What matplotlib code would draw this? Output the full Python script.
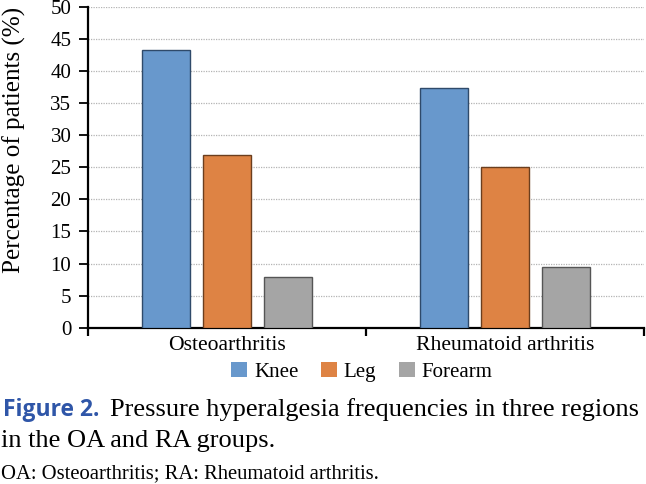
import matplotlib
matplotlib.use('Agg')
import matplotlib.pyplot as plt
from matplotlib.patches import Patch
import numpy as np

groups = ['Osteoarthritis', 'Rheumatoid arthritis']
regions = ['Knee', 'Leg', 'Forearm']
knee = [43.3, 37.4]
leg = [27.0, 25.0]
forearm = [7.9, 9.4]
yticks = [0, 5, 10, 15, 20, 25, 30, 35, 40, 45, 50]
colors = ['#6898cc', '#de8344', '#a5a5a5']
edges = ['#2f4a6a', '#6b3e1e', '#555555']

W, H = 646, 484
SERIF = ['Liberation Serif', 'DejaVu Serif']

fig = plt.figure(figsize=(W / 100, H / 100), dpi=100)
top_px = 7.0
ax = fig.add_axes([88 / W, (H - 327.7) / H, 556 / W, (327.7 - top_px) / H])

x = np.arange(len(groups))
width = 0.1727
step = 0.2205
for i, (vals, c, ec) in enumerate(zip([knee, leg, forearm], colors, edges)):
    ax.bar(x + (i - 1) * step, vals, width, color=c, edgecolor=ec,
           linewidth=1.0, zorder=3, label=regions[i])

ax.set_xlim(-0.5, 1.5)
ax.set_ylim(0, 50)
ax.set_yticks(yticks)
ax.set_yticklabels([str(t) for t in yticks], fontfamily=SERIF, fontsize=15)
ax.yaxis.grid(True, linestyle=(0, (1, 1)), color='#b4b4b4', linewidth=0.9, zorder=0)
ax.set_axisbelow(True)
for s in ['top', 'right']:
    ax.spines[s].set_visible(False)
for s in ['left', 'bottom']:
    ax.spines[s].set_linewidth(1.6)
    ax.spines[s].set_color('black')

ax.set_xticks([-0.5, 0.5, 1.5])
ax.set_xticklabels([])
ax.set_xticks(x, minor=True)
ax.set_xticklabels(groups, minor=True, fontfamily=SERIF, fontsize=15.6)
ax.tick_params(axis='x', which='major', length=6, width=1.6, direction='out')
ax.tick_params(axis='x', which='minor', length=0, pad=6)
ax.tick_params(axis='y', which='major', length=6.5, width=1.3, direction='out', pad=5.5)

ylab = fig.text(14 / W, 1 - 140 / H, 'Percentage of patients (%)', rotation=90,
                ha='center', va='center', fontfamily=SERIF, fontsize=15)

handles = [Patch(facecolor=c, edgecolor='none') for c in colors]
fig.legend(handles, regions, loc='center', ncol=3, frameon=False,
           bbox_to_anchor=(362 / W, 1 - 372 / H),
           prop={'family': SERIF, 'size': 15},
           handlelength=0.75, handleheight=0.75, handletextpad=0.33,
           columnspacing=1.1, borderpad=0, borderaxespad=0)

fig.canvas.draw()
renderer = fig.canvas.get_renderer()


def fit(t, target, vertical=False):
    fig.canvas.draw()
    bb = t.get_window_extent(renderer)
    w = bb.height if vertical else bb.width
    t.set_fontsize(t.get_fontsize() * target / w)
    return t


fit(ylab, 268, vertical=True)

t1 = fig.text(3 / W, 1 - 416 / H, 'Figure 2.', ha='left', va='baseline',
              fontfamily=['Open Sans', 'DejaVu Sans'], fontweight='bold',
              color='#2f56a8', fontsize=15)
fit(t1, 97)
t2 = fig.text(110 / W, 1 - 416 / H,
              'Pressure hyperalgesia frequencies in three regions',
              ha='left', va='baseline', fontfamily=SERIF, fontsize=16)
fit(t2, 528)
t3 = fig.text(1 / W, 1 - 447 / H, 'in the OA and RA groups.', ha='left',
              va='baseline', fontfamily=SERIF, fontsize=t2.get_fontsize())
t4 = fig.text(1 / W, 1 - 478.5 / H, 'OA: Osteoarthritis; RA: Rheumatoid arthritis.',
              ha='left', va='baseline', fontfamily=SERIF, fontsize=12)
fit(t4, 377)

fig.savefig('out.png', dpi=100)
